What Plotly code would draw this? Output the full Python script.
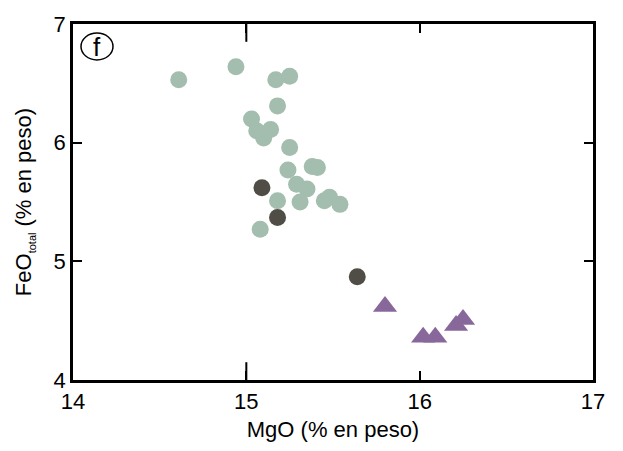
import plotly.graph_objects as go

# MgO vs FeO(total), weight %
green_mgo = [14.61, 14.94, 15.17, 15.25, 15.18, 15.03, 15.06, 15.10, 15.14, 15.25,
             15.38, 15.41, 15.24, 15.29, 15.35, 15.18, 15.31, 15.45, 15.48, 15.54, 15.08]
green_feo = [6.53, 6.64, 6.53, 6.56, 6.31, 6.20, 6.10, 6.04, 6.11, 5.96,
             5.80, 5.79, 5.77, 5.65, 5.61, 5.51, 5.50, 5.51, 5.54, 5.48, 5.27]

dark_mgo = [15.09, 15.18, 15.64]
dark_feo = [5.62, 5.37, 4.87]

tri_mgo = [15.80, 16.02, 16.09, 16.21, 16.25]
tri_feo = [4.62, 4.36, 4.36, 4.46, 4.51]

x_ticks = [14, 15, 16, 17]
y_ticks = [4, 5, 6, 7]

GREEN = "rgb(163,189,174)"
DARK = "rgb(80,77,70)"
PURPLE = "rgb(136,104,155)"
FONT = "Liberation Sans, Arial, sans-serif"

fig = go.Figure()
fig.add_trace(go.Scatter(x=green_mgo, y=green_feo, mode="markers",
                         marker=dict(symbol="circle", size=17, color=GREEN, line=dict(width=0))))
fig.add_trace(go.Scatter(x=dark_mgo, y=dark_feo, mode="markers",
                         marker=dict(symbol="circle", size=17, color=DARK, line=dict(width=0))))
fig.add_trace(go.Scatter(x=tri_mgo, y=tri_feo, mode="markers",
                         marker=dict(symbol="triangle-up", size=21, color=PURPLE, line=dict(width=0))))

axis_common = dict(
    showline=True, linecolor="black", linewidth=2.5, mirror="ticks",
    ticks="inside", ticklen=9, tickwidth=2, tickcolor="black",
    showgrid=False, zeroline=False,
    tickfont=dict(family=FONT, size=22, color="black"),
)

fig.update_xaxes(range=[14, 17], tickvals=x_ticks, ticktext=[str(v) for v in x_ticks],
                 title=dict(text="MgO (% en peso)", font=dict(family=FONT, size=22, color="black"),
                            standoff=9),
                 **axis_common)
fig.update_yaxes(range=[4, 7], tickvals=y_ticks, ticktext=[str(v) for v in y_ticks],
                 title=dict(text="FeO<sub><span style='font-size:11px'>total</span></sub> (% en peso)",
                            font=dict(family=FONT, size=22, color="black"), standoff=16),
                 **axis_common)

# longer ticks at MgO = 15 on both horizontal edges
for y0, y1 in [(0, 0.05), (0.95, 1)]:
    fig.add_shape(type="line", xref="x", yref="y domain", x0=15, x1=15, y0=y0, y1=y1,
                  line=dict(color="black", width=2))

# panel label: circled "f"
fig.add_shape(type="circle", xref="x domain", yref="y domain", xanchor=0, yanchor=1,
              xsizemode="pixel", ysizemode="pixel", x0=8, x1=40, y0=-9, y1=-36,
              line=dict(color="black", width=1.5))
fig.add_annotation(xref="x domain", yref="y domain", x=0, y=1, xanchor="center", yanchor="middle",
                   xshift=24, yshift=-22.5, text="f", showarrow=False,
                   font=dict(family=FONT, size=26, color="black"))

fig.update_layout(
    width=623, height=451,
    margin=dict(l=73, r=30, t=19, b=68),
    paper_bgcolor="white", plot_bgcolor="white",
    showlegend=False,
)

fig.write_html("out.html")
